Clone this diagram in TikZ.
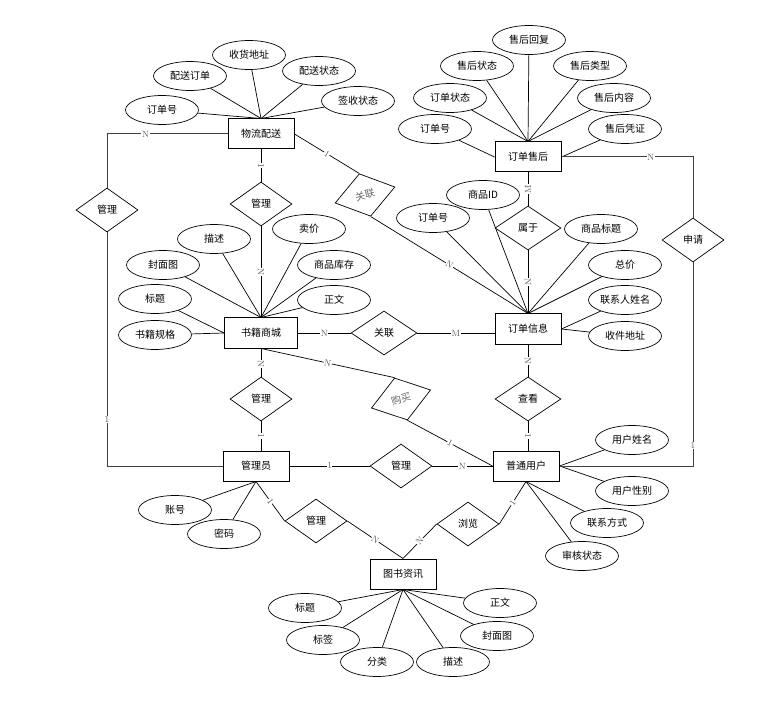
\documentclass[tikz,border=0pt]{standalone}
\usepackage{fontspec}
\newfontfamily\cjk{Noto Sans CJK SC}
\usetikzlibrary{shapes.geometric}

\begin{document}
\begin{tikzpicture}[x=1pt, y=-1pt, line width=0.7pt,
    entity/.style={draw, line width=1pt, minimum width=66, minimum height=30, inner sep=0pt, font=\cjk\fontsize{10}{12}\selectfont},
    attr/.style={draw, ellipse, minimum width=73, minimum height=29, inner sep=0pt, font=\cjk\fontsize{10}{12}\selectfont},
    rel/.style={draw, diamond, minimum width=62, minimum height=44, inner sep=0pt, font=\cjk\fontsize{10}{12}\selectfont},
    card/.style={fill=white, inner sep=0.6pt, text=black!65, font=\fontsize{9}{10}\selectfont},
    elbow/.style={line width=1pt, draw=black!75}]
    \useasboundingbox (0,0) rectangle (763,719);

    % Entities
    \node[entity] (wlps) at (261,134) {物流配送};
    \node[entity] (ddsh) at (528,157) {订单售后};
    \node[entity, minimum width=73] (sjsc) at (261,333) {书籍商城};
    \node[entity] (ddxx) at (528,329) {订单信息};
    \node[entity] (gly) at (256,466) {管理员};
    \node[entity] (ptyh) at (526,466) {普通用户};
    \node[entity] (tszx) at (403,574) {图书资讯};

    % Relations
    \node[rel] (gl1) at (107,210) {管理};
    \node[rel] (gl2) at (261,204) {管理};
    \node[rel, rotate=15, text=black!60] (gl3) at (365,195) {关联};
    \node[rel, minimum width=66] (gl4) at (384,333) {关联};
    \node[rel, minimum width=66] (sy) at (528,228) {属于};
    \node[rel] (sq) at (693,240) {申请};
    \node[rel] (gl5) at (261,399) {管理};
    \node[rel, minimum width=66] (ck) at (528,399) {查看};
    \node[rel, rotate=17, text=black!60] (gm) at (401,399) {购买};
    \node[rel] (gl6) at (401,466) {管理};
    \node[rel] (gl7) at (316,521) {管理};
    \node[rel] (ll) at (468,524) {浏览};

    % Attributes of 物流配送
    \node[attr] (wl1) at (162,110) {订单号};
    \node[attr] (wl2) at (190,76) {配送订单};
    \node[attr] (wl3) at (249,55) {收货地址};
    \node[attr] (wl4) at (319,71) {配送状态};
    \node[attr] (wl5) at (358,101) {签收状态};
    \draw (wl1) -- (wlps.north);
    \draw (wl2) -- (wlps.north);
    \draw (wl3) -- (wlps.north);
    \draw (wl4) -- (wlps.north);
    \draw (wl5) -- (wlps.north);

    % Attributes of 订单售后
    \node[attr] (sh1) at (529,40) {售后回复};
    \node[attr] (sh2) at (477,66) {售后状态};
    \node[attr] (sh3) at (590,66) {售后类型};
    \node[attr] (sh4) at (450,98) {订单状态};
    \node[attr] (sh5) at (614,98) {售后内容};
    \node[attr] (sh6) at (435,129) {订单号};
    \node[attr] (sh7) at (625,129) {售后凭证};
    \draw (sh1) -- (ddsh.north);
    \draw (sh2) -- (ddsh.north);
    \draw (sh3) -- (ddsh.north);
    \draw (sh4) -- (ddsh.north);
    \draw (sh5) -- (ddsh.north);
    \draw (sh6) -- (ddsh.west);
    \draw (sh7) -- (ddsh.east);

    % Attributes of 书籍商城
    \node[attr] (sc1) at (163,265) {封面图};
    \node[attr] (sc2) at (214,239) {描述};
    \node[attr] (sc3) at (309,229) {卖价};
    \node[attr] (sc4) at (334,265) {商品库存};
    \node[attr] (sc5) at (155,299) {标题};
    \node[attr] (sc6) at (334,300) {正文};
    \node[attr] (sc7) at (155,335) {书籍规格};
    \draw (sc1) -- (sjsc.north);
    \draw (sc2) -- (sjsc.north);
    \draw (sc3) -- (sjsc.north);
    \draw (sc4) -- (sjsc.north);
    \draw (sc6) -- (sjsc.north);
    \draw (sc5) -- (sjsc.west);
    \draw (sc7) -- (sjsc.west);

    % Attributes of 订单信息
    \node[attr] (dx1) at (483,195) {商品ID};
    \node[attr] (dx2) at (433,218) {订单号};
    \node[attr] (dx3) at (601,229) {商品标题};
    \node[attr] (dx4) at (625,265) {总价};
    \node[attr] (dx5) at (625,300) {联系人姓名};
    \node[attr] (dx6) at (625,336) {收件地址};
    \draw (dx1) -- (ddxx.north);
    \draw (dx2) -- (ddxx.north);
    \draw (dx3) -- (ddxx.north);
    \draw (dx4) -- (ddxx.north);
    \draw (dx5) -- (ddxx.east);
    \draw (dx6) -- (ddxx.east);

    % Attributes of 普通用户
    \node[attr] (yh1) at (632,440) {用户姓名};
    \node[attr] (yh2) at (632,491) {用户性别};
    \node[attr] (yh3) at (607,523) {联系方式};
    \node[attr] (yh4) at (582,556) {审核状态};
    \draw (yh1) -- (ptyh.east);
    \draw (yh2) -- (ptyh.east);
    \draw (yh3) -- (ptyh.south);
    \draw (yh4) -- (ptyh.south);

    % Attributes of 管理员
    \node[attr] (gy1) at (175,510) {账号};
    \node[attr] (gy2) at (224,534) {密码};
    \draw (gy1) -- (gly.south);
    \draw (gy2) -- (gly.south);

    % Attributes of 图书资讯
    \node[attr] (zx1) at (305,608) {标题};
    \node[attr] (zx2) at (323,640) {标签};
    \node[attr] (zx3) at (377,662) {分类};
    \node[attr] (zx4) at (453,662) {描述};
    \node[attr] (zx5) at (497,636) {封面图};
    \node[attr] (zx6) at (500,603) {正文};
    \draw (zx1) -- (tszx.south);
    \draw (zx2) -- (tszx.south);
    \draw (zx3) -- (tszx.south);
    \draw (zx4) -- (tszx.south);
    \draw (zx5) -- (tszx.south);
    \draw (zx6) -- (tszx.south);

    % Elbow connectors
    \draw[elbow] (wlps.west) -| node[card, pos=0.34] {N} (gl1.north);
    \draw[elbow] (gl1.south) |- node[card, pos=0.4] {1} (gly.west);
    \draw[elbow] (ddsh.east) -| node[card, pos=0.34] {N} (sq.north);
    \draw[elbow] (sq.south) |- node[card, pos=0.45] {1} (ptyh.east);

    % Straight connectors
    \draw (wlps.south) -- node[card, sloped] {1} (gl2.north);
    \draw (gl2.south) -- node[card, sloped] {N} (sjsc.north);
    \draw (wlps.east) -- node[card, sloped] {1} (gl3.north);
    \draw (gl3.south) -- node[card, sloped] {N} (ddxx.north);
    \draw (sjsc.east) -- node[card, sloped] {N} (gl4.west);
    \draw (gl4.east) -- node[card, sloped] {M} (gl4.east -| ddxx.west);
    \draw (sy.north) -- node[card, sloped] {M} (ddsh.south);
    \draw (sy.south) -- node[card, sloped] {N} (ddxx.north);
    \draw (ddxx.south) -- node[card, sloped] {N} (ck.north);
    \draw (ck.south) -- node[card, sloped] {1} (ck.south |- ptyh.north);
    \draw (sjsc.south) -- node[card, sloped, pos=0.55] {N} (gl5.north);
    \draw (gl5.south) -- node[card, sloped] {1} (gl5.south |- gly.north);
    \draw (sjsc.south) -- node[card, sloped] {N} (gm.north);
    \draw (gm.south) -- node[card, sloped] {1} (ptyh.west);
    \draw (gly.east) -- node[card] {1} (gl6.west);
    \draw (gl6.east) -- node[card] {N} (ptyh.west);
    \draw (gly.south) -- node[card, sloped] {1} (gl7.west);
    \draw (gl7.east) -- node[card, sloped] {N} (tszx.north);
    \draw (ptyh.south) -- node[card, sloped] {1} (ll.east);
    \draw (ll.west) -- node[card, sloped] {N} (tszx.north);
\end{tikzpicture}
\end{document}
